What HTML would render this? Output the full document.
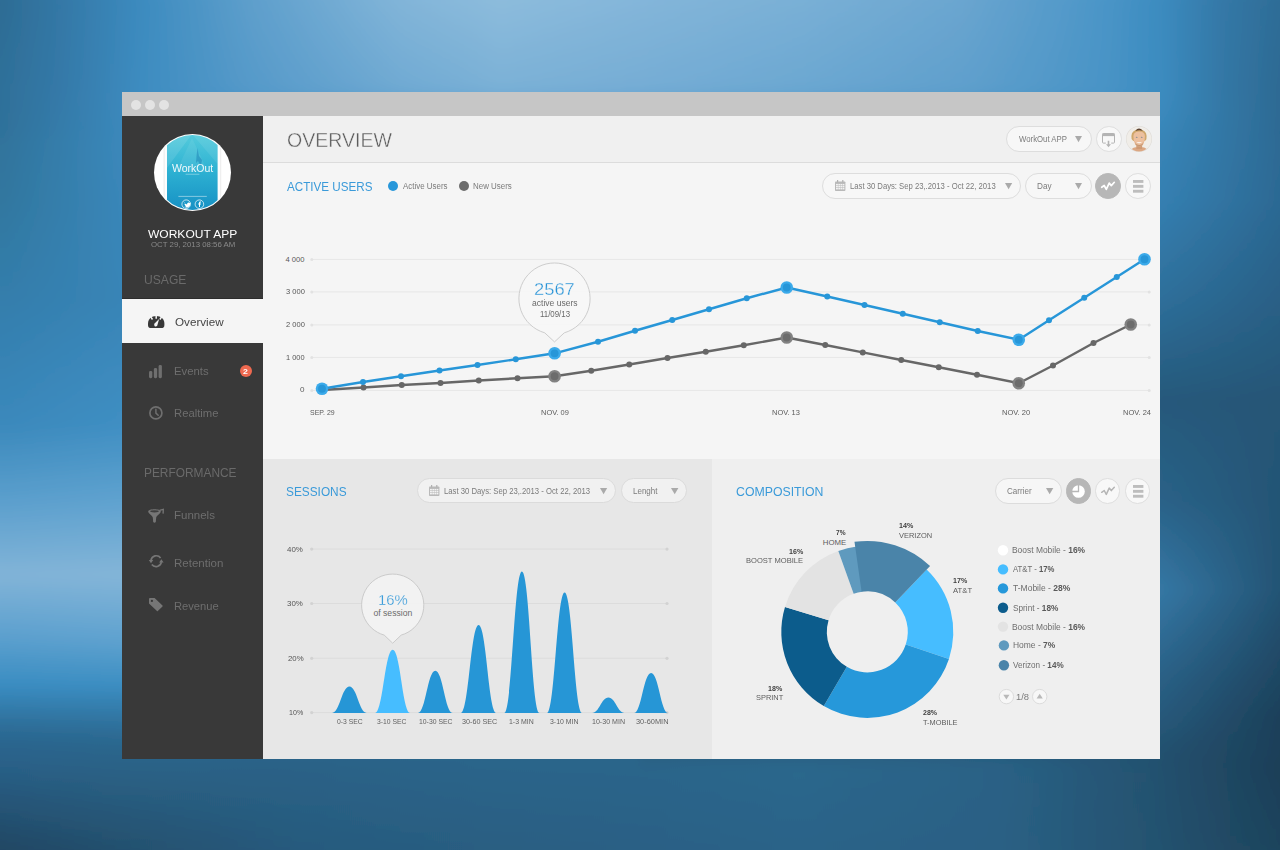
<!DOCTYPE html><html lang="en"><head><meta charset="utf-8"><title>Overview - WorkOut APP</title><style>
*{box-sizing:border-box;margin:0;padding:0}
html,body{width:1280px;height:850px;overflow:hidden;background:#2f6f98;font-family:"Liberation Sans",sans-serif}
.bg{position:absolute;left:0;top:0}
.t{position:absolute;white-space:nowrap;line-height:1;transform-origin:0 50%;display:block}
.abs{position:absolute}
.win{position:absolute;left:122px;top:92px;width:1038px;height:667px;background:#f5f5f5;overflow:hidden}
.titlebar{position:absolute;left:0;top:0;width:1038px;height:24px;background:#c6c6c6}
.titlebar i{position:absolute;top:7.7px;width:10.4px;height:10.4px;border-radius:50%;background:#e3e3e3}
.side{position:absolute;left:0;top:24px;width:141px;height:643px;background:#393939}
.side .active{position:absolute;left:0;top:182px;width:141px;height:45px;background:#f5f5f5;border-top:1px solid #2d2d2d}
.hdr{position:absolute;left:141px;top:24px;width:897px;height:47px;background:#f0f0f0;border-bottom:1px solid #dcdcdc}
.p1{position:absolute;left:141px;top:71px;width:897px;height:296px;background:#f5f5f5}
.p2{position:absolute;left:141px;top:367px;width:449px;height:300px;background:#e7e7e7}
.p3{position:absolute;left:590px;top:367px;width:448px;height:300px;background:#efefef}
.pill{position:absolute;border:1px solid #dddddd;border-radius:13px;background:#f7f7f7;height:26px}
.pill.s2{background:#f1f1f1;border-color:#dbdbdb}
.pill.s3{background:#f6f6f6;border-color:#dcdcdc}
.rb{position:absolute;width:26px;height:26px;border-radius:50%;border:1px solid #dedede;background:#f8f8f8}
.rb.on{background:#b7b7b7;border-color:#b7b7b7}
svg{position:absolute;overflow:visible}
</style></head><body><svg class="bg" width="1280" height="850" viewBox="0 0 1280 850"><defs><linearGradient id="gt0" gradientUnits="userSpaceOnUse" x1="0" y1="0" x2="1280" y2="0"><stop offset="0.0000" stop-color="#2d6c94"/><stop offset="0.0469" stop-color="#3478a6"/><stop offset="0.1094" stop-color="#3c8bbf"/><stop offset="0.1953" stop-color="#5e9fcc"/><stop offset="0.3125" stop-color="#82b5d9"/><stop offset="0.3906" stop-color="#8dbcdc"/><stop offset="0.5000" stop-color="#84b6da"/><stop offset="0.6250" stop-color="#7ab0d6"/><stop offset="0.7500" stop-color="#6ba6d0"/><stop offset="0.8594" stop-color="#4c96c8"/><stop offset="0.9062" stop-color="#3c8cc0"/><stop offset="0.9531" stop-color="#3579a8"/><stop offset="1.0000" stop-color="#2e6d97"/></linearGradient><linearGradient id="gt1" gradientUnits="userSpaceOnUse" x1="0" y1="0" x2="1280" y2="0"><stop offset="0.0000" stop-color="#2f7099"/><stop offset="0.0469" stop-color="#3579a8"/><stop offset="0.1094" stop-color="#3d8cc0"/><stop offset="0.1953" stop-color="#5599c9"/><stop offset="0.3125" stop-color="#6fa9d2"/><stop offset="0.3906" stop-color="#7ab0d6"/><stop offset="0.5000" stop-color="#75acd4"/><stop offset="0.6250" stop-color="#6ba7d1"/><stop offset="0.7500" stop-color="#5f9fcc"/><stop offset="0.8594" stop-color="#4a94c6"/><stop offset="0.9062" stop-color="#3c8cc0"/><stop offset="0.9531" stop-color="#3478a6"/><stop offset="1.0000" stop-color="#2d6a93"/></linearGradient><linearGradient id="gl0" gradientUnits="userSpaceOnUse" x1="0" y1="0" x2="0" y2="850"><stop offset="0.0000" stop-color="#2d6c94"/><stop offset="0.1082" stop-color="#2f7099"/><stop offset="0.2353" stop-color="#31779f"/><stop offset="0.3882" stop-color="#3580b0"/><stop offset="0.5000" stop-color="#3b89bc"/><stop offset="0.5882" stop-color="#5b9fcd"/><stop offset="0.6765" stop-color="#82b4d8"/><stop offset="0.7529" stop-color="#5a9fce"/><stop offset="0.8059" stop-color="#3a8dc2"/><stop offset="0.8529" stop-color="#2e6f9a"/><stop offset="0.8941" stop-color="#2a628a"/><stop offset="0.9412" stop-color="#234d6b"/><stop offset="1.0000" stop-color="#214763"/></linearGradient><linearGradient id="gl1" gradientUnits="userSpaceOnUse" x1="0" y1="0" x2="0" y2="850"><stop offset="0.0000" stop-color="#3c8bbf"/><stop offset="0.1082" stop-color="#3d8cc0"/><stop offset="0.2353" stop-color="#3b88bb"/><stop offset="0.3529" stop-color="#3985b7"/><stop offset="0.5000" stop-color="#408fc3"/><stop offset="0.5882" stop-color="#5fa2cf"/><stop offset="0.6765" stop-color="#84b5d8"/><stop offset="0.7529" stop-color="#5fa2cf"/><stop offset="0.8059" stop-color="#3c8ec2"/><stop offset="0.8529" stop-color="#2f719c"/><stop offset="0.8941" stop-color="#2c6489"/><stop offset="0.9412" stop-color="#25526f"/><stop offset="1.0000" stop-color="#24506e"/></linearGradient><linearGradient id="gr0" gradientUnits="userSpaceOnUse" x1="0" y1="0" x2="0" y2="850"><stop offset="0.0000" stop-color="#3c8cc0"/><stop offset="0.1082" stop-color="#3b8abd"/><stop offset="0.2353" stop-color="#3580b2"/><stop offset="0.3529" stop-color="#2e6f9a"/><stop offset="0.4706" stop-color="#26597b"/><stop offset="0.5882" stop-color="#2a6288"/><stop offset="0.6941" stop-color="#3578a5"/><stop offset="0.8000" stop-color="#2a6085"/><stop offset="0.8941" stop-color="#24516f"/><stop offset="1.0000" stop-color="#24526f"/></linearGradient><linearGradient id="gr1" gradientUnits="userSpaceOnUse" x1="0" y1="0" x2="0" y2="850"><stop offset="0.0000" stop-color="#2e6d97"/><stop offset="0.1082" stop-color="#2d6a93"/><stop offset="0.2353" stop-color="#2c6892"/><stop offset="0.3529" stop-color="#295f85"/><stop offset="0.4706" stop-color="#255676"/><stop offset="0.5882" stop-color="#245474"/><stop offset="0.6941" stop-color="#235272"/><stop offset="0.8471" stop-color="#1c3f58"/><stop offset="0.9412" stop-color="#1e445e"/><stop offset="1.0000" stop-color="#1e445d"/></linearGradient><linearGradient id="gb0" gradientUnits="userSpaceOnUse" x1="0" y1="0" x2="1280" y2="0"><stop offset="0.0000" stop-color="#2a628a"/><stop offset="0.0953" stop-color="#2c6489"/><stop offset="0.2344" stop-color="#2b6388"/><stop offset="0.3906" stop-color="#2c668b"/><stop offset="0.5000" stop-color="#2c668b"/><stop offset="0.6250" stop-color="#2d688d"/><stop offset="0.7812" stop-color="#2a6286"/><stop offset="0.9062" stop-color="#24516f"/><stop offset="1.0000" stop-color="#1c3f58"/></linearGradient><linearGradient id="gb1" gradientUnits="userSpaceOnUse" x1="0" y1="0" x2="1280" y2="0"><stop offset="0.0000" stop-color="#214763"/><stop offset="0.0953" stop-color="#24506e"/><stop offset="0.2344" stop-color="#275a7d"/><stop offset="0.3906" stop-color="#295e82"/><stop offset="0.5000" stop-color="#2a6085"/><stop offset="0.6250" stop-color="#2b6388"/><stop offset="0.7812" stop-color="#2a6084"/><stop offset="0.9062" stop-color="#24526f"/><stop offset="1.0000" stop-color="#1e445d"/></linearGradient><linearGradient id="rl" gradientUnits="userSpaceOnUse" x1="0" y1="0" x2="135" y2="0"><stop offset="0.0000" stop-color="#000000"/><stop offset="1.0000" stop-color="#ffffff"/></linearGradient><linearGradient id="rr" gradientUnits="userSpaceOnUse" x1="1160" y1="0" x2="1285" y2="0"><stop offset="0.0000" stop-color="#000000"/><stop offset="1.0000" stop-color="#ffffff"/></linearGradient><linearGradient id="rt" gradientUnits="userSpaceOnUse" x1="0" y1="0" x2="0" y2="92"><stop offset="0.0000" stop-color="#000000"/><stop offset="1.0000" stop-color="#ffffff"/></linearGradient><linearGradient id="rb" gradientUnits="userSpaceOnUse" x1="0" y1="760" x2="0" y2="850"><stop offset="0.0000" stop-color="#000000"/><stop offset="1.0000" stop-color="#ffffff"/></linearGradient><linearGradient id="ft" gradientUnits="userSpaceOnUse" x1="0" y1="88" x2="0" y2="140"><stop offset="0.0000" stop-color="#ffffff"/><stop offset="1.0000" stop-color="#000000"/></linearGradient><linearGradient id="fb" gradientUnits="userSpaceOnUse" x1="0" y1="728" x2="0" y2="768"><stop offset="0.0000" stop-color="#000000"/><stop offset="1.0000" stop-color="#ffffff"/></linearGradient><mask id="ml" maskUnits="userSpaceOnUse" x="-50" y="-50" width="1380" height="950"><rect x="-50" y="-50" width="1380" height="950" fill="url(#rl)"/></mask><mask id="mr" maskUnits="userSpaceOnUse" x="-50" y="-50" width="1380" height="950"><rect x="-50" y="-50" width="1380" height="950" fill="url(#rr)"/></mask><mask id="mt" maskUnits="userSpaceOnUse" x="-50" y="-50" width="1380" height="950"><rect x="-50" y="-50" width="1380" height="950" fill="url(#rt)"/></mask><mask id="mb" maskUnits="userSpaceOnUse" x="-50" y="-50" width="1380" height="950"><rect x="-50" y="-50" width="1380" height="950" fill="url(#rb)"/></mask><mask id="mft" maskUnits="userSpaceOnUse" x="-50" y="-50" width="1380" height="950"><rect x="-50" y="-50" width="1380" height="950" fill="url(#ft)"/></mask><mask id="mfb" maskUnits="userSpaceOnUse" x="-50" y="-50" width="1380" height="950"><rect x="-50" y="-50" width="1380" height="950" fill="url(#fb)"/></mask><filter id="bl" filterUnits="userSpaceOnUse" x="-50" y="-50" width="1380" height="950"><feGaussianBlur stdDeviation="6"/></filter></defs><g filter="url(#bl)"><rect x="-50" y="-50" width="700" height="950" fill="url(#gl0)"/><rect x="-50" y="-50" width="700" height="950" fill="url(#gl1)" mask="url(#ml)"/><rect x="640" y="-50" width="700" height="950" fill="url(#gr0)"/><rect x="640" y="-50" width="700" height="950" fill="url(#gr1)" mask="url(#mr)"/><g mask="url(#mft)"><rect x="-50" y="-50" width="1380" height="950" fill="url(#gt0)"/><rect x="-50" y="-50" width="1380" height="950" fill="url(#gt1)" mask="url(#mt)"/></g><g mask="url(#mfb)"><rect x="-50" y="-50" width="1380" height="950" fill="url(#gb0)"/><rect x="-50" y="-50" width="1380" height="950" fill="url(#gb1)" mask="url(#mb)"/></g></g></svg><div class="win"><div class="titlebar"><i style="left:8.8px"></i><i style="left:22.8px"></i><i style="left:36.6px"></i></div><div class="side"><div class="active"></div></div><div class="hdr"></div><div class="p1"></div><div class="p2"></div><div class="p3"></div></div><aside><svg style="left:154px;top:133.8px" width="77" height="77" viewBox="0 0 77 77">
<defs><clipPath id="avc"><circle cx="38.5" cy="38.5" r="37.4"/></clipPath>
<linearGradient id="avg" x1="0" y1="0" x2="0" y2="1"><stop offset="0" stop-color="#55cbdc"/><stop offset=".45" stop-color="#2fb3d3"/><stop offset="1" stop-color="#1690c4"/></linearGradient></defs>
<circle cx="38.5" cy="38.5" r="38.5" fill="#ffffff"/>
<g clip-path="url(#avc)">
<rect x="9.6" y="0" width="57.6" height="77" fill="#ececec"/>
<rect x="10.6" y="0" width="55.6" height="77" fill="#fdfdfd"/>
<rect x="13" y="0" width="50.6" height="77" fill="url(#avg)"/>
<path d="M13 0 L38 0 L13 34 Z" fill="#ffffff" opacity=".10"/>
<path d="M38 0 L63.6 0 L63.6 30 Z" fill="#ffffff" opacity=".08"/>
<path d="M22 38 L38 4 L54 38 Z" fill="#ffffff" opacity=".07"/>
<path d="M43.5 14 l1.5 8 l3 4 l-1 6 l-3 -5 l-2 2 l0.5 -7 z" fill="#1f86b8" opacity=".55"/>
<rect x="24.400" y="61.900" width="28.400" height="0.900" fill="#ffffff" opacity=".5"/>
<rect x="31.600" y="39.800" width="13.800" height="0.800" fill="#ffffff" opacity=".45"/>
<circle cx="32.2" cy="70.2" r="4.3" fill="none" stroke="#ffffff" stroke-width=".8" opacity=".9"/>
<circle cx="45.4" cy="70.2" r="4.3" fill="none" stroke="#ffffff" stroke-width=".8" opacity=".9"/>
<path d="M29.800 68.600 q1.400 1.700 3.300 1.800 q-.3 -1.500 1.200 -2 q.9 -.1 1.400 .5 l.9 -.3 l-.4 .7 l.7 -.1 l-.6 .6 q.1 2.400 -2.200 3.400 q-2 .7 -3.900 -.4 q1.200 .1 2 -.6 q-.9 0 -1.300 -.9 l.6 0 q-1 -.4 -1.100 -1.400 l.6 .2 q-.7 -.7 -.2 -1.500 z" fill="#ffffff"/>
<path d="M45 73 v-2.600 h-.8 v-.9 h.8 v-.7 q0 -1.200 1.200 -1.200 h.8 v.9 h-.6 q-.4 0 -.4 .4 v.6 h1 l-.15 .9 h-.85 v2.600 z" fill="#ffffff"/>
</g></svg><span class="t" id="t0" style="left:171.75px;top:163.23px;font-size:11.40px;color:#ffffff;transform:scaleX(0.9229);opacity:.92;">WorkOut</span><span class="t" id="t1" style="left:147.75px;top:229.08px;font-size:11.50px;color:#ffffff;transform:scaleX(1.0448);">WORKOUT APP</span><span class="t" id="t2" style="left:150.74px;top:241.24px;font-size:7.50px;color:#8a8a8a;transform:scaleX(1.0437);">OCT 29, 2013 08:56 AM</span><span class="t" id="t3" style="left:144.29px;top:274.34px;font-size:12.60px;color:#6a6a6a;transform:scaleX(0.9614);">USAGE</span><span class="t" id="t4" style="left:144.30px;top:467.04px;font-size:12.60px;color:#6a6a6a;transform:scaleX(0.9446);">PERFORMANCE</span><span class="t" id="t5" style="left:174.72px;top:317.03px;font-size:11.00px;color:#454545;transform:scaleX(1.0608);">Overview</span><span class="t" id="t6" style="left:173.96px;top:365.98px;font-size:10.90px;color:#6e6e6e;transform:scaleX(1.0404);">Events</span><span class="t" id="t7" style="left:173.97px;top:408.28px;font-size:10.90px;color:#6e6e6e;transform:scaleX(1.0335);">Realtime</span><span class="t" id="t8" style="left:174.45px;top:509.88px;font-size:10.90px;color:#6e6e6e;transform:scaleX(1.0560);">Funnels</span><span class="t" id="t9" style="left:173.95px;top:557.58px;font-size:10.90px;color:#6e6e6e;transform:scaleX(1.0586);">Retention</span><span class="t" id="t10" style="left:173.98px;top:600.98px;font-size:10.90px;color:#6e6e6e;transform:scaleX(1.0259);">Revenue</span><div class="abs" style="left:239.6px;top:365.3px;width:12px;height:12px;border-radius:50%;background:#ee6950"></div><span class="t" id="t11" style="left:242.94px;top:367.69px;font-size:7.60px;color:#ffffff;font-weight:700;transform:scaleX(1.1485);">2</span><svg style="left:147.8px;top:315.9px" width="16.4" height="12.1" viewBox="0 0 16.4 12.1">
<path d="M0 7.800 C0 3 3.500 0 8.200 0 C12.900 0 16.400 3 16.400 7.800 V8.900 C16.400 11 15.100 12.100 13.200 12.100 H3.200 C1.300 12.100 0 11 0 8.900 Z" fill="#383838"/>
<path d="M8.200 -0.500 V2.700 M2.600 0.700 L4.500 3.500 M13.800 0.700 L11.900 3.500" stroke="#f5f5f5" stroke-width="1.500"/>
<path d="M11.100 3 L9.300 9.400 Q8.300 11 6.700 10.200 Q5.600 9 6.600 7.600 Z" fill="#f5f5f5"/>
</svg><svg style="left:149.1px;top:364.5px" width="13" height="13.2" viewBox="0 0 13 13.2">
<rect x="0" y="6" width="3.3" height="7.200" rx="1.400" fill="#6f6f6f"/>
<rect x="4.850" y="3.100" width="3.3" height="10.100" rx="1.400" fill="#6f6f6f"/>
<rect x="9.600" y="0" width="3.3" height="13.200" rx="1.400" fill="#6f6f6f"/></svg><svg style="left:149px;top:405.9px" width="13.8" height="13.8" viewBox="0 0 13.8 13.8">
<circle cx="6.9" cy="6.9" r="6" fill="none" stroke="#6f6f6f" stroke-width="1.700"/>
<path d="M6.900 3.300 V7.100 L9.200 9.300" fill="none" stroke="#6f6f6f" stroke-width="1.500" stroke-linecap="round" stroke-linejoin="round"/></svg><svg style="left:148px;top:509.1px" width="15.6" height="14" viewBox="0 0 15.6 14">
<path d="M0.200 2.400 C0.200 -0.600 12.800 -0.600 12.800 2.400 C12.800 4.600 8.600 6.400 8.200 8.400 L7.800 13 Q6.500 14.300 5.200 13 L4.800 8.400 C4.400 6.400 0.200 4.600 0.200 2.400 Z" fill="#767676"/>
<ellipse cx="6.500" cy="2.300" rx="4.300" ry="1.100" fill="#3f3f3f"/>
<path d="M11.500 1.300 L15.300 0.300 L15.100 4.600" fill="none" stroke="#767676" stroke-width="1.300"/></svg><svg style="left:148.5px;top:554.3px" width="14.4" height="14.4" viewBox="0 0 14.4 14.4">
<path d="M2 6.200 A5.400 5.400 0 0 1 11.600 3.900" fill="none" stroke="#767676" stroke-width="1.700"/>
<path d="M12.400 8.200 A5.400 5.400 0 0 1 2.800 10.500" fill="none" stroke="#767676" stroke-width="1.700"/>
<path d="M-0.200 6 L4.300 6 L2 9.200 Z M14.600 8.400 L10.100 8.400 L12.400 5.200 Z" fill="#767676"/></svg><svg style="left:149.1px;top:597.8px" width="13.8" height="13.4" viewBox="0 0 13.8 13.4">
<path d="M0.900 0 H5.600 L13.500 7.600 Q13.900 8 13.500 8.400 L8.800 13.100 Q8.400 13.500 8 13.100 L0 5.400 V0.900 Q0 0 .9 0 Z" fill="#767676"/>
<circle cx="2.900" cy="2.900" r="1.150" fill="#393939"/></svg></aside><main><header><span class="t" id="t12" style="left:286.56px;top:130.04px;font-size:20.60px;color:#5c5c5c;transform:scaleX(0.9487);-webkit-text-stroke:0.4px #f0f0f0;">OVERVIEW</span><div class="pill " style="left:1006.20px;top:126.20px;width:85.80px;height:25.80px"></div><span class="t" id="t13" style="left:1019.02px;top:134.90px;font-size:8.60px;color:#7b7b7b;transform:scaleX(0.9062);">WorkOut APP</span><svg style="left:1075.00px;top:135.60px" width="7.00" height="6.20" viewBox="0 0 10 10" preserveAspectRatio="none"><path d="M0 0 H10 L5 10 Z" fill="#aaaaaa"/></svg><div class="rb" style="left:1096.10px;top:126.20px;width:25.60px;height:25.60px"></div><svg style="left:1102.3px;top:133px" width="13" height="14.500" viewBox="0 0 13 14.5">
<path d="M3.800 10.100 H1.400 Q.5 10.100 .5 9.200 V1.400 Q.5 .5 1.400 .5 H11.600 Q12.500 .5 12.500 1.400 V9.200 Q12.500 10.100 11.600 10.100 H9.200" fill="none" stroke="#b4b4b4" stroke-width="1"/>
<rect x=".5" y=".5" width="12" height="2.600" fill="#b4b4b4"/>
<path d="M5.700 7.800 H7.300 V11.200 H9 L6.500 14.300 L4 11.200 H5.700 Z" fill="#b4b4b4"/></svg><svg style="left:1125.7px;top:125.9px" width="26" height="26" viewBox="0 0 26 26">
<defs><clipPath id="uac"><circle cx="13" cy="13" r="12.500"/></clipPath></defs>
<circle cx="13" cy="13" r="13" fill="#dddad5"/>
<g clip-path="url(#uac)"><rect width="26" height="26" fill="#f0ede8"/>
<path d="M4.800 26 Q5 22 9.600 21.200 L16.800 21.200 Q21.300 22 21.500 26 Z" fill="#dba783"/>
<rect x="10.300" y="17" width="5.800" height="6" fill="#cf9a74"/>
<path d="M5.600 13 Q4.600 6.500 8.800 4.600 Q12.500 1.400 16.800 4.200 Q21.600 6.200 20.400 13.200 L19 15 L7.200 15 Z" fill="#cfa76b"/>
<path d="M9.400 5 Q12.800 0.200 16.800 4.800 Q13 3.600 9.400 5 Z" fill="#5b4232"/>
<path d="M7.400 10 Q7.700 5.800 13.200 5.600 Q18.700 5.800 18.900 10 Q19.200 15.600 17 19 Q13.200 22.400 9.400 19 Q7.100 15.600 7.400 10 Z" fill="#ecc09f"/>
<path d="M10.300 15.900 Q13.200 18.400 16.100 15.900 Q13.200 16.800 10.300 15.900 Z" fill="#ffffff"/>
<path d="M8.700 17.600 Q13.200 22.600 17.700 17.600 Q13.200 20.400 8.700 17.600 Z" fill="#b88860" opacity=".75"/>
<ellipse cx="10.700" cy="11.300" rx=".9" ry=".5" fill="#7d8791"/><ellipse cx="15.700" cy="11.300" rx=".9" ry=".5" fill="#7d8791"/><path d="M8.600 15 Q13.200 24 17.800 15 Q17 20 13.200 21.600 Q9.400 20 8.600 15 Z" fill="#c4946d" opacity=".55"/>
</g></svg></header><section><span class="t" id="t14" style="left:287.25px;top:181.14px;font-size:12.40px;color:#3a9ad9;transform:scaleX(0.9403);">ACTIVE USERS</span><div class="abs" style="left:387.8px;top:181px;width:10.2px;height:10.2px;border-radius:50%;background:#2797da"></div><span class="t" id="t15" style="left:402.51px;top:182.05px;font-size:8.30px;color:#7a7a7a;transform:scaleX(0.9557);">Active Users</span><div class="abs" style="left:458.9px;top:181px;width:10.2px;height:10.2px;border-radius:50%;background:#6c6c6c"></div><span class="t" id="t16" style="left:472.77px;top:182.05px;font-size:8.30px;color:#7a7a7a;transform:scaleX(0.9560);">New Users</span><div class="pill " style="left:822.20px;top:173.20px;width:198.60px;height:25.50px"></div><svg style="left:834.80px;top:179.70px" width="10.4" height="11" viewBox="0 0 10.4 11">
<rect x="0" y="1.400" width="10.400" height="9.600" rx=".8" fill="#b9b9b9"/>
<rect x="2" y="0" width="1.200" height="2.300" fill="#b0b0b0"/><rect x="7.200" y="0" width="1.200" height="2.300" fill="#b0b0b0"/>
<g fill="#f3f3f3"><rect x="1" y="3.900" width="1.900" height="1.500"/><rect x="3.300" y="3.900" width="1.700" height="1.500"/><rect x="5.400" y="3.900" width="1.700" height="1.500"/><rect x="7.500" y="3.900" width="1.900" height="1.500"/>
<rect x="1" y="5.900" width="1.900" height="1.500"/><rect x="3.300" y="5.900" width="1.700" height="1.500"/><rect x="5.400" y="5.900" width="1.700" height="1.500"/><rect x="7.500" y="5.900" width="1.900" height="1.500"/>
<rect x="1" y="7.900" width="1.900" height="1.500"/><rect x="3.300" y="7.900" width="1.700" height="1.500"/><rect x="5.400" y="7.900" width="1.700" height="1.500"/><rect x="7.500" y="7.900" width="1.900" height="1.500"/></g></svg><span class="t" id="t17" style="left:849.81px;top:182.10px;font-size:8.60px;color:#7b7b7b;transform:scaleX(0.8941);">Last 30 Days: Sep 23,.2013 - Oct 22, 2013</span><svg style="left:1005.40px;top:183.30px" width="7.20" height="6.30" viewBox="0 0 10 10" preserveAspectRatio="none"><path d="M0 0 H10 L5 10 Z" fill="#aaaaaa"/></svg><div class="pill " style="left:1025.00px;top:173.20px;width:67.00px;height:25.50px"></div><span class="t" id="t18" style="left:1037.03px;top:182.10px;font-size:8.60px;color:#7b7b7b;transform:scaleX(0.9519);">Day</span><svg style="left:1075.00px;top:183.30px" width="7.00" height="6.30" viewBox="0 0 10 10" preserveAspectRatio="none"><path d="M0 0 H10 L5 10 Z" fill="#aaaaaa"/></svg><div class="rb on" style="left:1095.20px;top:173.10px;width:25.80px;height:25.80px"></div><svg style="left:1101.10px;top:181.00px" width="14" height="10" viewBox="0 0 14 10"><path d="M0.700 6.300 L3.200 4.500 L5.300 8.400 L8.200 2.100 L10.300 4.600 L13.300 1.300" fill="none" stroke="#ffffff" stroke-width="1.70" stroke-linejoin="round" stroke-linecap="round"/></svg><div class="rb" style="left:1125.00px;top:173.10px;width:25.80px;height:25.80px"></div><svg style="left:1132.50px;top:179.75px" width="10.4" height="13" viewBox="0 0 10.4 13"><rect x="0" y="0" width="10.400" height="2.900" fill="#bdbdbd"/><rect x="0" y="4.900" width="10.400" height="2.900" fill="#bdbdbd"/><rect x="0" y="9.800" width="10.400" height="2.900" fill="#bdbdbd"/></svg><svg style="left:0;top:0" width="1280" height="850" viewBox="0 0 1280 850"><rect x="311" y="258.90" width="839" height="1" fill="#e7e7e7"/><circle cx="311.8" cy="259.40" r="1.500" fill="#e2e2e2"/><circle cx="1149.2" cy="259.40" r="1.500" fill="#e2e2e2"/><rect x="311" y="291.40" width="839" height="1" fill="#e7e7e7"/><circle cx="311.8" cy="291.90" r="1.500" fill="#e2e2e2"/><circle cx="1149.2" cy="291.90" r="1.500" fill="#e2e2e2"/><rect x="311" y="324.40" width="839" height="1" fill="#e7e7e7"/><circle cx="311.8" cy="324.90" r="1.500" fill="#e2e2e2"/><circle cx="1149.2" cy="324.90" r="1.500" fill="#e2e2e2"/><rect x="311" y="356.90" width="839" height="1" fill="#e7e7e7"/><circle cx="311.8" cy="357.40" r="1.500" fill="#e2e2e2"/><circle cx="1149.2" cy="357.40" r="1.500" fill="#e2e2e2"/><rect x="311" y="389.90" width="839" height="1" fill="#e7e7e7"/><circle cx="311.8" cy="390.40" r="1.500" fill="#e2e2e2"/><circle cx="1149.2" cy="390.40" r="1.500" fill="#e2e2e2"/><polyline points="322.00,390.00 363.50,387.50 401.75,385.00 440.50,383.00 478.75,380.50 517.50,378.25 554.60,376.25 591.25,370.75 629.25,364.50 667.50,358.00 705.75,351.75 743.75,345.25 786.75,337.50 825.25,345.00 862.75,352.40 901.25,360.00 938.75,367.25 977.00,374.75 1018.75,383.25 1053.00,365.50 1093.50,343.00 1130.75,324.50" fill="none" stroke="#676767" stroke-width="2.400" stroke-linejoin="round"/><circle cx="322.00" cy="390.00" r="3" fill="#676767"/><circle cx="363.50" cy="387.50" r="3" fill="#676767"/><circle cx="401.75" cy="385.00" r="3" fill="#676767"/><circle cx="440.50" cy="383.00" r="3" fill="#676767"/><circle cx="478.75" cy="380.50" r="3" fill="#676767"/><circle cx="517.50" cy="378.25" r="3" fill="#676767"/><circle cx="554.60" cy="376.25" r="6.300" fill="#828282"/><circle cx="554.60" cy="376.25" r="3.900" fill="#6c6c6c"/><circle cx="591.25" cy="370.75" r="3" fill="#676767"/><circle cx="629.25" cy="364.50" r="3" fill="#676767"/><circle cx="667.50" cy="358.00" r="3" fill="#676767"/><circle cx="705.75" cy="351.75" r="3" fill="#676767"/><circle cx="743.75" cy="345.25" r="3" fill="#676767"/><circle cx="786.75" cy="337.50" r="6.300" fill="#828282"/><circle cx="786.75" cy="337.50" r="3.900" fill="#6c6c6c"/><circle cx="825.25" cy="345.00" r="3" fill="#676767"/><circle cx="862.75" cy="352.40" r="3" fill="#676767"/><circle cx="901.25" cy="360.00" r="3" fill="#676767"/><circle cx="938.75" cy="367.25" r="3" fill="#676767"/><circle cx="977.00" cy="374.75" r="3" fill="#676767"/><circle cx="1018.75" cy="383.25" r="6.300" fill="#828282"/><circle cx="1018.75" cy="383.25" r="3.900" fill="#6c6c6c"/><circle cx="1053.00" cy="365.50" r="3" fill="#676767"/><circle cx="1093.50" cy="343.00" r="3" fill="#676767"/><circle cx="1130.75" cy="324.50" r="6.300" fill="#828282"/><circle cx="1130.75" cy="324.50" r="3.900" fill="#6c6c6c"/><polyline points="322.00,388.75 363.00,382.00 401.00,376.25 439.50,370.50 477.50,365.00 515.75,359.25 554.60,353.30 598.00,341.75 635.00,330.75 672.25,320.00 709.00,309.25 746.75,298.25 786.75,287.50 827.25,296.50 864.50,305.00 902.75,313.75 939.75,322.25 977.75,331.00 1018.75,339.75 1049.00,320.25 1084.25,297.75 1116.75,277.00 1144.50,259.25" fill="none" stroke="#2796d8" stroke-width="2.400" stroke-linejoin="round"/><circle cx="322.00" cy="388.75" r="6.300" fill="#3baaea"/><circle cx="322.00" cy="388.75" r="3.900" fill="#2796d8"/><circle cx="363.00" cy="382.00" r="3" fill="#2796d8"/><circle cx="401.00" cy="376.25" r="3" fill="#2796d8"/><circle cx="439.50" cy="370.50" r="3" fill="#2796d8"/><circle cx="477.50" cy="365.00" r="3" fill="#2796d8"/><circle cx="515.75" cy="359.25" r="3" fill="#2796d8"/><circle cx="554.60" cy="353.30" r="6.300" fill="#3baaea"/><circle cx="554.60" cy="353.30" r="3.900" fill="#2796d8"/><circle cx="598.00" cy="341.75" r="3" fill="#2796d8"/><circle cx="635.00" cy="330.75" r="3" fill="#2796d8"/><circle cx="672.25" cy="320.00" r="3" fill="#2796d8"/><circle cx="709.00" cy="309.25" r="3" fill="#2796d8"/><circle cx="746.75" cy="298.25" r="3" fill="#2796d8"/><circle cx="786.75" cy="287.50" r="6.300" fill="#3baaea"/><circle cx="786.75" cy="287.50" r="3.900" fill="#2796d8"/><circle cx="827.25" cy="296.50" r="3" fill="#2796d8"/><circle cx="864.50" cy="305.00" r="3" fill="#2796d8"/><circle cx="902.75" cy="313.75" r="3" fill="#2796d8"/><circle cx="939.75" cy="322.25" r="3" fill="#2796d8"/><circle cx="977.75" cy="331.00" r="3" fill="#2796d8"/><circle cx="1018.75" cy="339.75" r="6.300" fill="#3baaea"/><circle cx="1018.75" cy="339.75" r="3.900" fill="#2796d8"/><circle cx="1049.00" cy="320.25" r="3" fill="#2796d8"/><circle cx="1084.25" cy="297.75" r="3" fill="#2796d8"/><circle cx="1116.75" cy="277.00" r="3" fill="#2796d8"/><circle cx="1144.50" cy="259.25" r="6.300" fill="#3baaea"/><circle cx="1144.50" cy="259.25" r="3.900" fill="#2796d8"/><path d="M544.700 332.800 A35.600 35.600 0 1 1 564.300 332.800 L554.500 341.900 Z" fill="#f7f7f7" fill-opacity=".9" stroke="#cdcdcd" stroke-width="1"/></svg><span class="t" id="t19" style="left:285.49px;top:255.79px;font-size:7.60px;color:#555555;">4 000</span><span class="t" id="t20" style="left:285.50px;top:288.29px;font-size:7.60px;color:#555555;transform:scaleX(0.9920);">3 000</span><span class="t" id="t21" style="left:285.50px;top:320.99px;font-size:7.60px;color:#555555;transform:scaleX(0.9920);">2 000</span><span class="t" id="t22" style="left:286.26px;top:354.39px;font-size:7.60px;color:#555555;transform:scaleX(0.9782);">1 000</span><span class="t" id="t23" style="left:299.73px;top:385.89px;font-size:7.60px;color:#5a5a5a;transform:scaleX(1.0667);">0</span><span class="t" id="t24" style="left:310.02px;top:409.09px;font-size:7.60px;color:#5a5a5a;transform:scaleX(0.9162);">SEP. 29</span><span class="t" id="t25" style="left:541.01px;top:409.09px;font-size:7.60px;color:#5a5a5a;transform:scaleX(0.9818);">NOV. 09</span><span class="t" id="t26" style="left:772.00px;top:409.09px;font-size:7.60px;color:#5a5a5a;transform:scaleX(0.9821);">NOV. 13</span><span class="t" id="t27" style="left:1002.00px;top:409.09px;font-size:7.60px;color:#5a5a5a;transform:scaleX(0.9910);">NOV. 20</span><span class="t" id="t28" style="left:1123.01px;top:409.09px;font-size:7.60px;color:#5a5a5a;transform:scaleX(0.9856);">NOV. 24</span><span class="t" id="t29" style="left:533.85px;top:281.98px;font-size:16.00px;color:#2391d6;transform:scaleX(1.1467);-webkit-text-stroke:0.3px #f7f7f7;">2567</span><span class="t" id="t30" style="left:532.00px;top:299.00px;font-size:8.60px;color:#6a6a6a;transform:scaleX(0.9956);">active users</span><span class="t" id="t31" style="left:539.81px;top:310.00px;font-size:8.60px;color:#6a6a6a;transform:scaleX(0.9150);">11/09/13</span></section><section><span class="t" id="t32" style="left:286.28px;top:486.34px;font-size:12.40px;color:#3a9ad9;transform:scaleX(0.9558);">SESSIONS</span><div class="pill s2" style="left:417.20px;top:478.40px;width:198.40px;height:25.10px"></div><svg style="left:429.30px;top:484.80px" width="10.4" height="11" viewBox="0 0 10.4 11">
<rect x="0" y="1.400" width="10.400" height="9.600" rx=".8" fill="#b9b9b9"/>
<rect x="2" y="0" width="1.200" height="2.300" fill="#b0b0b0"/><rect x="7.200" y="0" width="1.200" height="2.300" fill="#b0b0b0"/>
<g fill="#f3f3f3"><rect x="1" y="3.900" width="1.900" height="1.500"/><rect x="3.300" y="3.900" width="1.700" height="1.500"/><rect x="5.400" y="3.900" width="1.700" height="1.500"/><rect x="7.500" y="3.900" width="1.900" height="1.500"/>
<rect x="1" y="5.900" width="1.900" height="1.500"/><rect x="3.300" y="5.900" width="1.700" height="1.500"/><rect x="5.400" y="5.900" width="1.700" height="1.500"/><rect x="7.500" y="5.900" width="1.900" height="1.500"/>
<rect x="1" y="7.900" width="1.900" height="1.500"/><rect x="3.300" y="7.900" width="1.700" height="1.500"/><rect x="5.400" y="7.900" width="1.700" height="1.500"/><rect x="7.500" y="7.900" width="1.900" height="1.500"/></g></svg><span class="t" id="t33" style="left:443.81px;top:486.80px;font-size:8.60px;color:#7b7b7b;transform:scaleX(0.8972);">Last 30 Days: Sep 23,.2013 - Oct 22, 2013</span><svg style="left:599.90px;top:488.10px" width="7.20" height="6.30" viewBox="0 0 10 10" preserveAspectRatio="none"><path d="M0 0 H10 L5 10 Z" fill="#aaaaaa"/></svg><div class="pill s2" style="left:621.00px;top:478.40px;width:65.90px;height:25.10px"></div><span class="t" id="t34" style="left:633.29px;top:486.80px;font-size:8.60px;color:#7b7b7b;transform:scaleX(0.9320);">Lenght</span><svg style="left:671.30px;top:488.10px" width="7.40" height="6.30" viewBox="0 0 10 10" preserveAspectRatio="none"><path d="M0 0 H10 L5 10 Z" fill="#aaaaaa"/></svg><svg style="left:0;top:0" width="1280" height="850" viewBox="0 0 1280 850"><rect x="311.600" y="548.60" width="355.600" height="1" fill="#dcdcdc"/><circle cx="311.7" cy="549.10" r="1.600" fill="#d2d2d2"/><circle cx="667" cy="549.10" r="1.600" fill="#d2d2d2"/><rect x="311.600" y="603.00" width="355.600" height="1" fill="#dcdcdc"/><circle cx="311.7" cy="603.50" r="1.600" fill="#d2d2d2"/><circle cx="667" cy="603.50" r="1.600" fill="#d2d2d2"/><rect x="311.600" y="657.80" width="355.600" height="1" fill="#dcdcdc"/><circle cx="311.7" cy="658.30" r="1.600" fill="#d2d2d2"/><circle cx="667" cy="658.30" r="1.600" fill="#d2d2d2"/><rect x="311.600" y="712.10" width="355.600" height="1" fill="#dcdcdc"/><circle cx="311.7" cy="712.60" r="1.600" fill="#d2d2d2"/><circle cx="667" cy="712.60" r="1.600" fill="#d2d2d2"/><path d="M332.10 713.00 C339.71 713.00 341.79 686.60 349.40 686.60 C357.01 686.60 359.09 713.00 366.70 713.00 Z" fill="#2696d6"/><path d="M375.10 713.00 C382.84 713.00 384.96 649.80 392.70 649.80 C400.44 649.80 402.56 713.00 410.30 713.00 Z" fill="#46bdff"/><path d="M417.90 713.00 C425.56 713.00 427.64 670.80 435.30 670.80 C442.96 670.80 445.04 713.00 452.70 713.00 Z" fill="#2696d6"/><path d="M460.90 713.00 C468.69 713.00 470.81 625.10 478.60 625.10 C486.39 625.10 488.51 713.00 496.30 713.00 Z" fill="#2696d6"/><path d="M504.30 713.00 C512.04 713.00 514.16 571.50 521.90 571.50 C529.64 571.50 531.76 713.00 539.50 713.00 Z" fill="#2696d6"/><path d="M547.00 713.00 C554.74 713.00 556.86 592.50 564.60 592.50 C572.34 592.50 574.46 713.00 582.20 713.00 Z" fill="#2696d6"/><path d="M592.20 713.00 C599.33 713.00 601.27 697.50 608.40 697.50 C615.53 697.50 617.47 713.00 624.60 713.00 Z" fill="#2696d6"/><path d="M633.90 713.00 C641.47 713.00 643.53 672.90 651.10 672.90 C658.67 672.90 660.73 713.00 668.30 713.00 Z" fill="#2696d6"/><path d="M384.200 635.100 A31.100 31.100 0 1 1 401.200 635.100 L392.700 643.200 Z" fill="#f3f3f3" fill-opacity=".9" stroke="#cbcbcb" stroke-width="1"/></svg><span class="t" id="t35" style="left:287.01px;top:545.59px;font-size:8.00px;color:#555555;transform:scaleX(0.9904);">40%</span><span class="t" id="t36" style="left:287.01px;top:599.89px;font-size:8.00px;color:#555555;transform:scaleX(0.9904);">30%</span><span class="t" id="t37" style="left:288.01px;top:655.39px;font-size:8.00px;color:#555555;transform:scaleX(0.9773);">20%</span><span class="t" id="t38" style="left:288.57px;top:709.39px;font-size:8.00px;color:#555555;transform:scaleX(0.8852);">10%</span><span class="t" id="t39" style="left:336.54px;top:717.79px;font-size:7.60px;color:#5f5f5f;transform:scaleX(0.8947);">0-3 SEC</span><span class="t" id="t40" style="left:376.78px;top:717.79px;font-size:7.60px;color:#5f5f5f;transform:scaleX(0.8946);">3-10 SEC</span><span class="t" id="t41" style="left:418.80px;top:717.79px;font-size:7.60px;color:#5f5f5f;transform:scaleX(0.9007);">10-30 SEC</span><span class="t" id="t42" style="left:461.77px;top:717.79px;font-size:7.60px;color:#5f5f5f;transform:scaleX(0.9493);">30-60 SEC</span><span class="t" id="t43" style="left:509.30px;top:717.79px;font-size:7.60px;color:#5f5f5f;transform:scaleX(0.9137);">1-3 MIN</span><span class="t" id="t44" style="left:550.26px;top:717.79px;font-size:7.60px;color:#5f5f5f;transform:scaleX(0.9100);">3-10 MIN</span><span class="t" id="t45" style="left:592.29px;top:717.79px;font-size:7.60px;color:#5f5f5f;transform:scaleX(0.9314);">10-30 MIN</span><span class="t" id="t46" style="left:635.51px;top:717.79px;font-size:7.60px;color:#5f5f5f;transform:scaleX(0.9739);">30-60MIN</span><span class="t" id="t47" style="left:377.56px;top:592.23px;font-size:15.50px;color:#2391d6;transform:scaleX(0.9604);-webkit-text-stroke:0.3px #f3f3f3;">16%</span><span class="t" id="t48" style="left:373.50px;top:609.10px;font-size:8.60px;color:#6a6a6a;">of session</span></section><section><span class="t" id="t49" style="left:736.00px;top:486.34px;font-size:12.40px;color:#3a9ad9;transform:scaleX(0.9925);">COMPOSITION</span><div class="pill s3" style="left:995.20px;top:478.40px;width:66.40px;height:25.30px"></div><span class="t" id="t50" style="left:1007.02px;top:487.00px;font-size:8.60px;color:#7b7b7b;transform:scaleX(0.9379);">Carrier</span><svg style="left:1045.80px;top:488.20px" width="7.30" height="6.30" viewBox="0 0 10 10" preserveAspectRatio="none"><path d="M0 0 H10 L5 10 Z" fill="#aaaaaa"/></svg><div class="rb on" style="left:1065.80px;top:478.30px;width:25.40px;height:25.40px"></div><svg style="left:1072px;top:484.500px" width="13" height="13" viewBox="0 0 13 13"><circle cx="6.500" cy="6.500" r="6.300" fill="#ffffff"/><path d="M6.500 0 V6.500 H0" fill="none" stroke="#b7b7b7" stroke-width="1.300"/></svg><div class="rb" style="left:1095.00px;top:478.30px;width:25.40px;height:25.40px"></div><svg style="left:1100.70px;top:486.00px" width="14" height="10" viewBox="0 0 14 10"><path d="M0.700 6.300 L3.200 4.500 L5.300 8.400 L8.200 2.100 L10.300 4.600 L13.300 1.300" fill="none" stroke="#b5b5b5" stroke-width="1.50" stroke-linejoin="round" stroke-linecap="round"/></svg><div class="rb" style="left:1125.10px;top:478.30px;width:25.40px;height:25.40px"></div><svg style="left:1132.50px;top:484.75px" width="10.4" height="13" viewBox="0 0 10.4 13"><rect x="0" y="0" width="10.400" height="2.900" fill="#bdbdbd"/><rect x="0" y="4.900" width="10.400" height="2.900" fill="#bdbdbd"/><rect x="0" y="9.800" width="10.400" height="2.900" fill="#bdbdbd"/></svg><svg style="left:0;top:0" width="1280" height="850" viewBox="0 0 1280 850"><path d="M926.61 569.62 A86.00 86.00 0 0 1 948.95 658.90 L905.75 644.62 A40.50 40.50 0 0 0 895.23 602.57 Z" fill="#46bdff"/><path d="M948.95 658.90 A86.00 86.00 0 0 1 823.78 706.08 L846.81 666.83 A40.50 40.50 0 0 0 905.75 644.62 Z" fill="#2698da"/><path d="M823.78 706.08 A86.00 86.00 0 0 1 785.01 606.90 L828.55 620.13 A40.50 40.50 0 0 0 846.81 666.83 Z" fill="#0c5c8c"/><path d="M785.01 606.90 A86.00 86.00 0 0 1 838.31 550.93 L853.65 593.77 A40.50 40.50 0 0 0 828.55 620.13 Z" fill="#e3e3e3"/><path d="M838.31 550.93 A86.00 86.00 0 0 1 856.82 546.54 L862.36 591.70 A40.50 40.50 0 0 0 853.65 593.77 Z" fill="#5f9abe"/><path d="M854.48 541.81 A91.00 91.00 0 0 1 930.06 566.00 L895.23 602.57 A40.50 40.50 0 0 0 861.59 591.80 Z" fill="#4a84a9"/><circle cx="1003.00" cy="550.30" r="5.200" fill="#ffffff"/><circle cx="1003.00" cy="569.40" r="5.200" fill="#46bdff"/><circle cx="1003.00" cy="588.40" r="5.200" fill="#2698da"/><circle cx="1003.00" cy="607.80" r="5.200" fill="#0c5c8c"/><circle cx="1003.00" cy="626.60" r="5.200" fill="#e3e3e3"/><circle cx="1003.90" cy="645.40" r="5.200" fill="#5f9abe"/><circle cx="1003.90" cy="665.30" r="5.200" fill="#4a84a9"/><circle cx="1006.400" cy="696.600" r="7.200" fill="#f7f7f7" stroke="#dcdcdc" stroke-width="1"/><path d="M1003.300 694.700 H1009.500 L1006.400 699.600 Z" fill="#b9b9b9"/><circle cx="1039.700" cy="696.600" r="7.200" fill="#f7f7f7" stroke="#dcdcdc" stroke-width="1"/><path d="M1036.600 698.600 H1042.800 L1039.700 693.700 Z" fill="#b9b9b9"/></svg><span class="t" id="t51" style="left:898.54px;top:521.79px;font-size:8.00px;color:#3e3e3e;font-weight:700;transform:scaleX(0.8874);">14%</span><span class="t" id="t52" style="left:899.26px;top:532.39px;font-size:7.80px;color:#5c5c5c;transform:scaleX(0.9559);">VERIZON</span><span class="t" id="t53" style="left:836.32px;top:529.09px;font-size:8.00px;color:#3e3e3e;font-weight:700;transform:scaleX(0.8229);">7%</span><span class="t" id="t54" style="left:822.75px;top:538.69px;font-size:7.80px;color:#5c5c5c;">HOME</span><span class="t" id="t55" style="left:789.06px;top:547.99px;font-size:8.00px;color:#3e3e3e;font-weight:700;transform:scaleX(0.8852);">16%</span><span class="t" id="t56" style="left:746.02px;top:557.09px;font-size:7.80px;color:#5c5c5c;transform:scaleX(0.9706);">BOOST MOBILE</span><span class="t" id="t57" style="left:952.81px;top:576.99px;font-size:8.00px;color:#3e3e3e;font-weight:700;transform:scaleX(0.8852);">17%</span><span class="t" id="t58" style="left:952.75px;top:586.59px;font-size:7.80px;color:#5c5c5c;transform:scaleX(0.9870);">AT&amp;T</span><span class="t" id="t59" style="left:768.30px;top:684.69px;font-size:8.00px;color:#3e3e3e;font-weight:700;transform:scaleX(0.8874);">18%</span><span class="t" id="t60" style="left:756.01px;top:693.99px;font-size:7.80px;color:#5c5c5c;transform:scaleX(0.9524);">SPRINT</span><span class="t" id="t61" style="left:922.52px;top:709.49px;font-size:8.00px;color:#3e3e3e;font-weight:700;transform:scaleX(0.8763);">28%</span><span class="t" id="t62" style="left:922.51px;top:719.29px;font-size:7.80px;color:#5c5c5c;transform:scaleX(0.9486);">T-MOBILE</span><span class="t" id="t63" style="left:1011.76px;top:546.20px;font-size:8.60px;color:#6e6e6e;transform:scaleX(0.9803);">Boost Mobile - <b style="color:#5a5a5a">16%</b></span><span class="t" id="t64" style="left:1012.51px;top:565.30px;font-size:8.60px;color:#6e6e6e;transform:scaleX(0.8995);">AT&amp;T - <b style="color:#5a5a5a">17%</b></span><span class="t" id="t65" style="left:1012.75px;top:584.30px;font-size:8.60px;color:#6e6e6e;transform:scaleX(0.9904);">T-Mobile - <b style="color:#5a5a5a">28%</b></span><span class="t" id="t66" style="left:1012.76px;top:603.70px;font-size:8.60px;color:#6e6e6e;transform:scaleX(0.9583);">Sprint - <b style="color:#5a5a5a">18%</b></span><span class="t" id="t67" style="left:1011.76px;top:622.50px;font-size:8.60px;color:#6e6e6e;transform:scaleX(0.9803);">Boost Mobile - <b style="color:#5a5a5a">16%</b></span><span class="t" id="t68" style="left:1013.01px;top:641.30px;font-size:8.60px;color:#6e6e6e;transform:scaleX(0.9845);">Home - <b style="color:#5a5a5a">7%</b></span><span class="t" id="t69" style="left:1013.00px;top:661.20px;font-size:8.60px;color:#6e6e6e;transform:scaleX(0.9465);">Verizon - <b style="color:#5a5a5a">14%</b></span><span class="t" id="t70" style="left:1016.49px;top:693.21px;font-size:9.20px;color:#7b7b7b;transform:scaleX(1.0213);">1/8</span></section></main></body></html>
